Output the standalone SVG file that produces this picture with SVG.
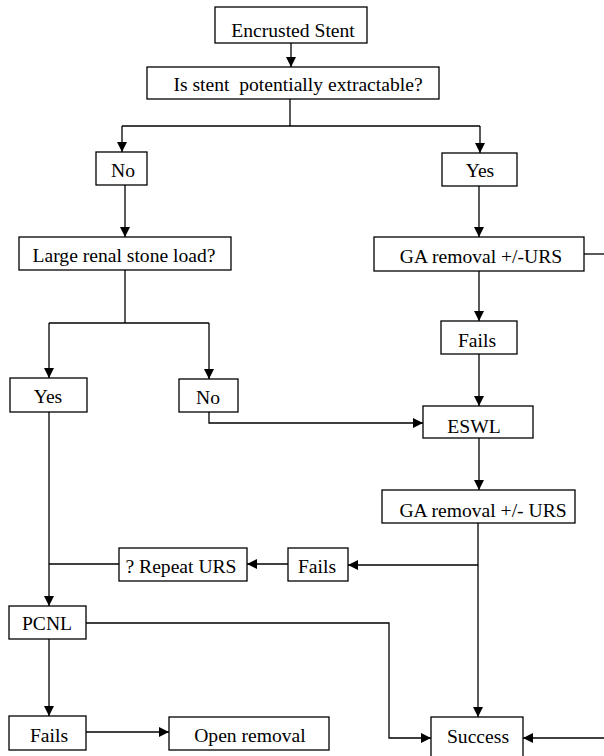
<svg xmlns="http://www.w3.org/2000/svg" width="604" height="756" viewBox="0 0 604 756">
<style>
rect{fill:#fff;stroke:#000;stroke-width:1.3}
text{font-family:"Liberation Serif","Times New Roman",serif;font-size:19.6px;fill:#000;text-anchor:middle}
.c path,.c line,.c polyline{fill:none;stroke:#000;stroke-width:1.3}
</style>
<defs>
<marker id="a" markerUnits="userSpaceOnUse" markerWidth="10" markerHeight="10" refX="10" refY="5" orient="auto">
<path d="M0,0 L10,5 L0,10 z" fill="#000"/>
</marker>
</defs>
<rect width="604" height="756" style="stroke:none"/>
<g class="c">
<line x1="291" y1="43" x2="291" y2="67" marker-end="url(#a)"/>
<polyline points="290,99 290,126"/>
<polyline points="122,126 480,126"/>
<line x1="122" y1="126" x2="122" y2="152" marker-end="url(#a)"/>
<line x1="480" y1="126" x2="480" y2="153" marker-end="url(#a)"/>
<line x1="125" y1="185" x2="125" y2="237" marker-end="url(#a)"/>
<line x1="479" y1="186" x2="479" y2="237" marker-end="url(#a)"/>
<line x1="584" y1="254" x2="604" y2="254"/>
<line x1="479" y1="271" x2="479" y2="321" marker-end="url(#a)"/>
<line x1="479" y1="354" x2="479" y2="406" marker-end="url(#a)"/>
<line x1="479" y1="438" x2="479" y2="490" marker-end="url(#a)"/>
<polyline points="125,270 125,323"/>
<polyline points="49,323 209,323"/>
<line x1="49" y1="323" x2="49" y2="378" marker-end="url(#a)"/>
<line x1="209" y1="323" x2="209" y2="379" marker-end="url(#a)"/>
<polyline points="209,412 209,423 423,423" marker-end="url(#a)"/>
<line x1="49" y1="412" x2="49" y2="606" marker-end="url(#a)"/>
<line x1="478" y1="523" x2="478" y2="717" marker-end="url(#a)"/>
<line x1="478" y1="565" x2="348" y2="565" marker-end="url(#a)"/>
<line x1="288" y1="564" x2="247" y2="564" marker-end="url(#a)"/>
<line x1="119" y1="564" x2="49" y2="564"/>
<polyline points="86,623 389,623 389,738 431,738" marker-end="url(#a)"/>
<line x1="604" y1="738" x2="523" y2="738" marker-end="url(#a)"/>
<line x1="49" y1="639" x2="49" y2="716" marker-end="url(#a)"/>
<line x1="86" y1="732" x2="169" y2="732" marker-end="url(#a)"/>
</g>
<g id="n1"><rect x="215" y="7" width="152" height="36"/><text x="293" y="37">Encrusted Stent</text></g>
<g id="n2"><rect x="147" y="67" width="292" height="32"/><text x="298" y="91" xml:space="preserve">Is stent  potentially extractable?</text></g>
<g id="n3"><rect x="96" y="152" width="51" height="33"/><text x="123" y="177">No</text></g>
<g id="n4"><rect x="442" y="153" width="75" height="33"/><text x="480" y="177">Yes</text></g>
<g id="n5"><rect x="19" y="237" width="212" height="33"/><text x="124" y="262">Large renal stone load?</text></g>
<g id="n6"><rect x="374" y="237" width="210" height="34"/><text x="481" y="263">GA removal +/-URS</text></g>
<g id="n7"><rect x="441" y="321" width="76" height="33"/><text x="477" y="347">Fails</text></g>
<g id="n8"><rect x="10" y="378" width="77" height="34"/><text x="48" y="403">Yes</text></g>
<g id="n9"><rect x="179" y="379" width="59" height="33"/><text x="208" y="404">No</text></g>
<g id="n10"><rect x="423" y="406" width="110" height="32"/><text x="474" y="433">ESWL</text></g>
<g id="n11"><rect x="382" y="490" width="193" height="33"/><text x="483" y="517">GA removal +/- URS</text></g>
<g id="n12"><rect x="119" y="548" width="128" height="33"/><text x="181" y="573">? Repeat URS</text></g>
<g id="n13"><rect x="288" y="548" width="60" height="33"/><text x="317" y="573">Fails</text></g>
<g id="n14"><rect x="9" y="606" width="77" height="33"/><text x="47" y="630">PCNL</text></g>
<g id="n15"><rect x="9" y="716" width="77" height="34"/><text x="49" y="742">Fails</text></g>
<g id="n16"><rect x="169" y="717" width="160" height="33"/><text x="250" y="742">Open removal</text></g>
<g id="n17"><rect x="431" y="717" width="92" height="42"/><text x="478" y="743">Success</text></g>
</svg>
